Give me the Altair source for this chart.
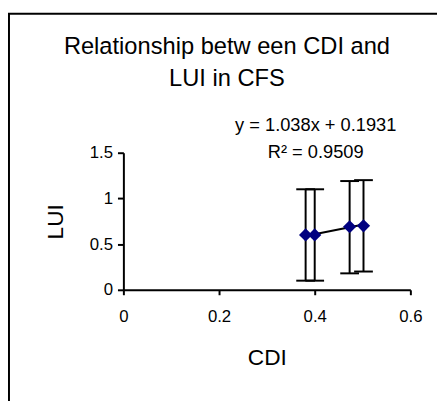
import altair as alt
import pandas as pd

# ---- data ----
cdi = [0.381, 0.400, 0.473, 0.502]
lui = [0.60, 0.60, 0.69, 0.70]
lui_low = [0.10, 0.10, 0.18, 0.20]
lui_high = [1.10, 1.10, 1.19, 1.20]
slope = 1.038
intercept = 0.1931
r_squared = 0.9509
x_ticks = [0, 0.2, 0.4, 0.6]
y_ticks = [0, 0.5, 1, 1.5]
title_lines = ["Relationship betw een CDI and", "LUI in CFS"]
x_title = "CDI"
y_title = "LUI"

FONT = "Liberation Sans"

df = pd.DataFrame({"CDI": cdi, "LUI": lui, "low": lui_low, "high": lui_high})
trend = pd.DataFrame({"CDI": [min(cdi), max(cdi)]})
trend["LUI"] = slope * trend["CDI"] + intercept
eq_lines = [f"y = {slope}x + {intercept}", f"R\u00b2 = {r_squared}"]

xs = alt.Scale(domain=[0, 0.6], nice=False, zero=False)
ys = alt.Scale(domain=[0, 1.5], nice=False, zero=False)

x_axis = alt.Axis(
    title=x_title, values=x_ticks, format="~g", grid=False,
    domainColor="black", domainWidth=2, tickColor="black", tickWidth=2, tickSize=5,
    labelFont=FONT, labelFontSize=17, labelColor="black", labelPadding=14, labelFlush=False,
    titleFont=FONT, titleFontSize=23, titleFontWeight="normal", titleColor="black",
    titleY=76, titleBaseline="alphabetic",
)
y_axis = alt.Axis(
    title=y_title, values=y_ticks, format="~g", grid=False,
    domainColor="black", domainWidth=2, tickColor="black", tickWidth=2, tickSize=6,
    labelFont=FONT, labelFontSize=17, labelColor="black", labelPadding=5,
    titleFont=FONT, titleFontSize=23, titleFontWeight="normal", titleColor="black",
    titleX=-69, titleY=69.5, titleAngle=-90, titleBaseline="middle", titleAlign="center",
)

base = alt.Chart(df)

bars = base.mark_rule(color="black", strokeWidth=2).encode(
    x=alt.X("CDI:Q", scale=xs, axis=x_axis),
    y=alt.Y("low:Q", scale=ys, axis=y_axis),
    y2="high:Q",
)
cap_hi = base.mark_rule(color="black", strokeWidth=2, xOffset=-9.5, x2Offset=9.5).encode(
    x=alt.X("CDI:Q", scale=xs), x2="CDI:Q", y=alt.Y("high:Q", scale=ys)
)
cap_lo = base.mark_rule(color="black", strokeWidth=2, xOffset=-9.5, x2Offset=9.5).encode(
    x=alt.X("CDI:Q", scale=xs), x2="CDI:Q", y=alt.Y("low:Q", scale=ys)
)
line = alt.Chart(trend).mark_line(color="black", strokeWidth=2).encode(
    x=alt.X("CDI:Q", scale=xs), y=alt.Y("LUI:Q", scale=ys)
)
points = base.mark_point(shape="diamond", filled=True, color="#000080", size=180, opacity=1).encode(
    x=alt.X("CDI:Q", scale=xs), y=alt.Y("LUI:Q", scale=ys)
)

one = pd.DataFrame({"k": [0]})
title_txt = alt.Chart(one).mark_text(
    text=title_lines, font=FONT, fontSize=24, color="black", align="center",
    baseline="alphabetic", lineHeight=32,
).encode(x=alt.value(105), y=alt.value(-100))
eq_txt = alt.Chart(one).mark_text(
    text=eq_lines, font=FONT, fontSize=18.5, color="black", align="center",
    baseline="alphabetic", lineHeight=27,
).encode(x=alt.value(195), y=alt.value(-22))

frame_left = alt.Chart(one).mark_rule(color="black", strokeWidth=2).encode(
    x=alt.value(-116), y=alt.value(-141), y2=alt.value(260)
)
frame_top = alt.Chart(one).mark_rule(color="black", strokeWidth=2).encode(
    x=alt.value(-117), x2=alt.value(330), y=alt.value(-141)
)

chart = alt.layer(
    frame_left, frame_top, bars, cap_hi, cap_lo, line, points, title_txt, eq_txt
).properties(
    width=291, height=139,
    autosize=alt.AutoSizeParams(type="none"),
    padding={"left": 117, "top": 144, "right": 27, "bottom": 110},
    background="white",
).configure_view(stroke=None)

chart.save("out.html", embed_options={"renderer": "svg", "actions": False})
